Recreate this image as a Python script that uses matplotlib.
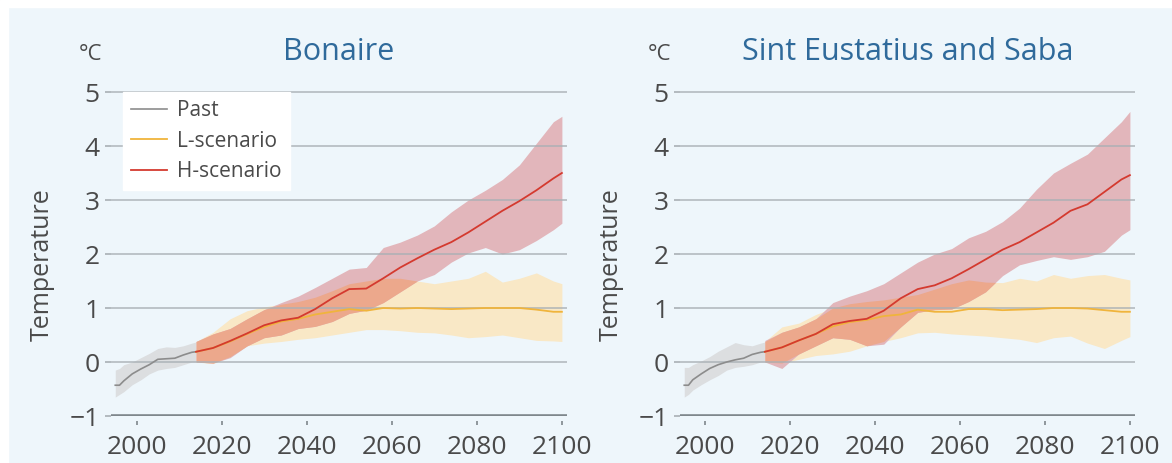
import matplotlib
matplotlib.use("Agg")
import matplotlib.pyplot as plt
from matplotlib.patches import Rectangle
import numpy as np

plt.rcParams['font.family'] = ['Open Sans', 'DejaVu Sans']

# ---- data ----
past_years = [1995, 1996, 1997, 1999, 2001, 2003, 2005, 2007, 2009, 2011, 2013, 2014]
scen_years = [2014, 2018, 2022, 2026, 2030, 2034, 2038, 2042, 2046, 2050, 2054, 2058,
              2062, 2066, 2070, 2074, 2078, 2082, 2086, 2090, 2094, 2098, 2100]

# Bonaire
bon_past = [-0.43, -0.43, -0.35, -0.22, -0.13, -0.05, 0.05, 0.06, 0.07, 0.13, 0.18, 0.19]
bon_past_lo = [-0.65, -0.6, -0.55, -0.42, -0.33, -0.22, -0.15, -0.12, -0.1, -0.05, 0.0, 0.0]
bon_past_hi = [-0.15, -0.12, -0.05, 0.0, 0.08, 0.16, 0.25, 0.28, 0.27, 0.3, 0.35, 0.37]
bon_h = [0.19, 0.26, 0.39, 0.53, 0.68, 0.77, 0.82, 0.98, 1.18, 1.35, 1.36, 1.55,
         1.75, 1.92, 2.08, 2.22, 2.4, 2.6, 2.8, 2.98, 3.18, 3.4, 3.5]
bon_h_lo = [0.0, -0.02, 0.08, 0.3, 0.45, 0.5, 0.62, 0.66, 0.75, 0.9, 0.96, 1.1,
            1.3, 1.5, 1.62, 1.85, 2.02, 2.12, 2.0, 2.08, 2.25, 2.45, 2.57]
bon_h_hi = [0.38, 0.52, 0.62, 0.8, 0.97, 1.1, 1.22, 1.38, 1.55, 1.72, 1.75, 2.12,
            2.22, 2.35, 2.52, 2.78, 3.0, 3.18, 3.38, 3.65, 4.05, 4.45, 4.55]
bon_l = [0.19, 0.26, 0.38, 0.52, 0.65, 0.75, 0.8, 0.88, 0.93, 0.98, 0.95, 1.0,
         0.99, 1.0, 0.99, 0.98, 0.99, 1.0, 1.0, 1.0, 0.97, 0.93, 0.93]
bon_l_lo = [0.0, -0.03, 0.1, 0.3, 0.35, 0.38, 0.42, 0.45, 0.5, 0.55, 0.6, 0.6,
            0.58, 0.55, 0.54, 0.5, 0.45, 0.47, 0.5, 0.45, 0.4, 0.39, 0.38]
bon_l_hi = [0.38, 0.55, 0.8, 0.95, 1.02, 1.07, 1.12, 1.2, 1.32, 1.45, 1.5, 1.55,
            1.55, 1.5, 1.45, 1.5, 1.55, 1.68, 1.48, 1.55, 1.65, 1.5, 1.45]

# Sint Eustatius and Saba
ses_past = [-0.43, -0.43, -0.33, -0.22, -0.12, -0.05, 0.0, 0.04, 0.07, 0.14, 0.18, 0.19]
ses_past_lo = [-0.65, -0.6, -0.52, -0.42, -0.33, -0.25, -0.15, -0.1, -0.08, -0.05, 0.0, 0.0]
ses_past_hi = [-0.1, -0.1, -0.05, 0.02, 0.1, 0.2, 0.28, 0.36, 0.32, 0.3, 0.35, 0.37]
ses_h = [0.19, 0.27, 0.4, 0.52, 0.7, 0.76, 0.8, 0.95, 1.18, 1.35, 1.42, 1.55,
         1.72, 1.9, 2.08, 2.22, 2.4, 2.58, 2.8, 2.92, 3.15, 3.38, 3.46]
ses_h_lo = [0.0, -0.12, 0.15, 0.3, 0.45, 0.42, 0.3, 0.33, 0.65, 0.92, 0.97, 0.98,
            1.12, 1.3, 1.6, 1.8, 1.88, 1.95, 1.9, 1.95, 2.05, 2.35, 2.45]
ses_h_hi = [0.4, 0.55, 0.65, 0.8, 1.1, 1.22, 1.32, 1.45, 1.65, 1.85, 2.0, 2.1,
            2.3, 2.42, 2.6, 2.85, 3.2, 3.5, 3.68, 3.85, 4.15, 4.45, 4.64]
ses_l = [0.19, 0.27, 0.4, 0.52, 0.66, 0.74, 0.78, 0.85, 0.88, 0.97, 0.93, 0.93,
         0.98, 0.98, 0.96, 0.97, 0.98, 1.0, 1.0, 0.99, 0.96, 0.93, 0.93]
ses_l_lo = [0.0, -0.02, 0.05, 0.12, 0.15, 0.2, 0.3, 0.38, 0.45, 0.54, 0.55, 0.52,
            0.5, 0.48, 0.45, 0.42, 0.36, 0.45, 0.48, 0.35, 0.25, 0.4, 0.47]
ses_l_hi = [0.38, 0.65, 0.72, 0.88, 1.0, 1.08, 1.12, 1.15, 1.2, 1.25, 1.35, 1.45,
            1.52, 1.48, 1.47, 1.55, 1.5, 1.62, 1.55, 1.6, 1.62, 1.55, 1.52]

titles = ["Bonaire", "Sint Eustatius and Saba"]
xticks = [2000, 2020, 2040, 2060, 2080, 2100]
yticks = [-1, 0, 1, 2, 3, 4, 5]

# ---- colours ----
bg = "#eef6fb"
grid_col = "#a9b0b5"
base_col = "#7f878c"
text_col = "#4a4a4a"
title_col = "#2f6a9b"
past_col = "#8c8c8c"
l_col = "#f0b43c"
h_col = "#d43a2f"
past_band = "#dcdee0"
l_band = "#f9e8c6"
h_band = "#e2b6bb"
both_band = "#eca88c"   # where the two bands overlap (multiply look)

fig = plt.figure(figsize=(11.72, 4.63), dpi=100, facecolor=bg)
# thin white margin at the top and left of the original picture
fig.patches.append(Rectangle((0, 1 - 7/463), 1, 7/463, transform=fig.transFigure,
                             color="white", zorder=0))
fig.patches.append(Rectangle((0, 0), 8/1172, 1, transform=fig.transFigure,
                             color="white", zorder=0))

ax1 = fig.add_axes([111/1172, 47/463, 456/1172, 326.7/463])
ax2 = fig.add_axes([680/1172, 47/463, 455/1172, 326.7/463])

panels = [
    (ax1, bon_past, bon_past_lo, bon_past_hi, bon_l, bon_l_lo, bon_l_hi, bon_h, bon_h_lo, bon_h_hi),
    (ax2, ses_past, ses_past_lo, ses_past_hi, ses_l, ses_l_lo, ses_l_hi, ses_h, ses_h_lo, ses_h_hi),
]

for i, (ax, p, plo, phi, l, llo, lhi, h, hlo, hhi) in enumerate(panels):
    ax.set_facecolor(bg)

    # bands
    ax.fill_between(past_years, plo, phi, color=past_band, lw=0, zorder=1)
    ax.fill_between(scen_years, llo, lhi, color=l_band, lw=0, zorder=1)
    ax.fill_between(scen_years, hlo, hhi, color=h_band, lw=0, zorder=1.1)
    ov_lo = np.maximum(llo, hlo)
    ov_hi = np.minimum(lhi, hhi)
    ax.fill_between(scen_years, ov_lo, ov_hi, where=ov_hi > ov_lo, interpolate=True,
                    color=both_band, lw=0, zorder=1.2)

    # horizontal grid lines, -1 acts as the base line
    for y in yticks[1:]:
        ax.axhline(y, color=grid_col, lw=1.2, alpha=0.85, zorder=1.5)
    ax.axhline(-1, color=base_col, lw=2.6, zorder=1.5)

    # lines
    ax.plot(past_years, p, color=past_col, lw=1.2, label="Past", zorder=3)
    ax.plot(scen_years, l, color=l_col, lw=1.3, label="L-scenario", zorder=3)
    ax.plot(scen_years, h, color=h_col, lw=1.3, label="H-scenario", zorder=3.1)

    ax.set_xlim(1994, 2101.2)
    ax.set_ylim(-1, 5.05)
    ax.set_xticks(xticks)
    ax.set_yticks(yticks)
    ax.set_yticklabels(["\u22121", "0", "1", "2", "3", "4", "5"])

    for s in ["top", "right", "left"]:
        ax.spines[s].set_visible(False)
    ax.spines["bottom"].set_position(("outward", 3.6))
    ax.spines["bottom"].set_visible(False)

    ax.tick_params(axis="y", length=4, width=1.2, color=grid_col, pad=4,
                   labelsize=19, labelcolor=text_col)
    ax.tick_params(axis="x", length=3, width=1.2, color=base_col, pad=7,
                   labelsize=19, labelcolor=text_col)

    ax.text(0.5, 1.114, titles[i], transform=ax.transAxes, ha="center", va="center",
            fontsize=22, color=title_col)
    ax.text(-0.046, 1.105, "\u00b0C", transform=ax.transAxes, ha="center", va="center",
            fontsize=16, color=text_col)
    ax.text(-0.151, 0.462, "Temperature", transform=ax.transAxes, ha="center",
            va="center", rotation=90, fontsize=18, color=text_col)

leg = ax1.legend(loc="upper left", bbox_to_anchor=(0.026, 0.992), fontsize=15,
                 frameon=True, fancybox=False, borderpad=0.4, labelspacing=0.45,
                 handlelength=1.7, handletextpad=0.5, borderaxespad=0)
leg.get_frame().set_facecolor("white")
leg.get_frame().set_edgecolor("white")
leg.get_frame().set_alpha(1)
leg.set_zorder(5)
for t in leg.get_texts():
    t.set_color(text_col)

plt.savefig("out.png", dpi=100, facecolor=fig.get_facecolor())
